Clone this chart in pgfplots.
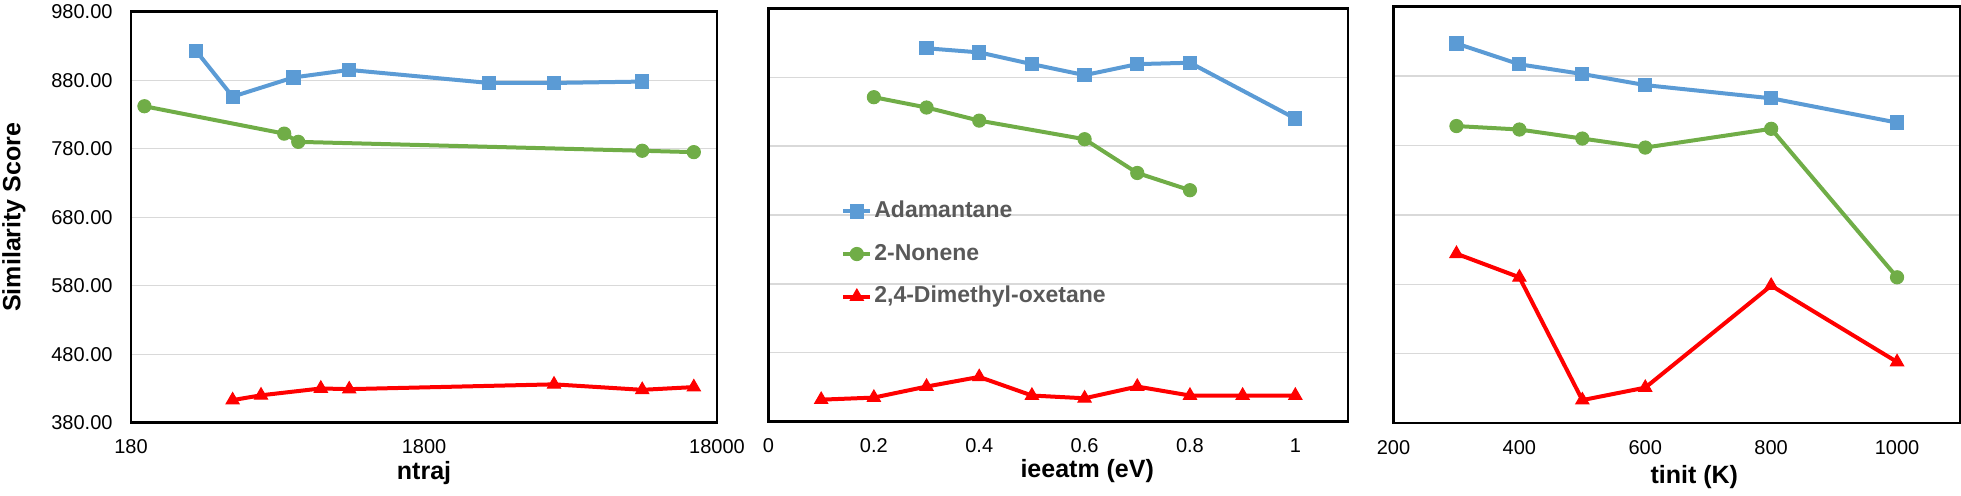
\documentclass[border=0pt]{standalone}
\usepackage{fontspec}
\setmainfont{Liberation Sans}
\usepackage{pgfplots}
\pgfplotsset{compat=1.18}

\definecolor{adam}{HTML}{5B9BD5}
\definecolor{nonene}{HTML}{70AD47}
\definecolor{oxet}{HTML}{FF0000}
\definecolor{gridc}{HTML}{D9D9D9}
\definecolor{legtext}{HTML}{595959}

\newcommand{\labfont}{\bfseries\fontsize{12.5}{14}\selectfont}

\pgfplotsset{
  panel/.style={
    anchor=south west, scale only axis,
    ymin=380, ymax=980, ytick={380,480,...,980},
    ymajorgrids, grid style={gridc, line width=0.65pt},
    axis line style={black, line width=1.3pt},
    tick style={draw=none},
    major tick length=0pt, minor tick length=0pt,
    /pgf/number format/assume math mode=true,
    ticklabel style={font=\fontsize{10}{12}\selectfont},
    xticklabel style={yshift=-5pt},
    yticklabel style={xshift=-5.7pt},
    clip=false,
  },
  sA/.style={adam, line width=2pt, mark=square*, mark size=3.3pt, mark options={solid, fill=adam, line width=0.5pt}},
  sN/.style={nonene, line width=2pt, mark=*, mark size=3.3pt, mark options={solid, fill=nonene, line width=0.5pt}},
  sO/.style={oxet, line width=2pt, mark=triangle*, mark size=3.8pt, mark options={solid, fill=oxet, line width=0.5pt}},
}

\begin{document}
\begin{tikzpicture}
\useasboundingbox (0,0) rectangle (980.5pt,247.5pt);

% ntraj (log axis)
\begin{axis}[panel,
  at={(65.5pt,36.15pt)}, width=293pt, height=205.5pt,
  xmode=log, xmin=180, xmax=18000,
  xtick={180,1800,18000}, xticklabels={180,1800,18000},
  yticklabels={380.00,480.00,580.00,680.00,780.00,880.00,980.00},
  xlabel={ntraj}, ylabel={Similarity Score},
  every axis x label/.style={at={(axis description cs:0.5,-0.122)}, anchor=center, font=\labfont},
  every axis y label/.style={at={(axis description cs:-0.1997,0.5)}, rotate=90, anchor=center, font=\labfont},
]
\addplot[sA] coordinates {(300,923) (400,856) (645,884) (1000,895) (3000,876) (5000,876) (10000,878)};
\addplot[sN] coordinates {(200,842) (600,802) (670,790) (10000,777) (15000,775)};
\addplot[sO] coordinates {(400,413) (500,420) (800,430) (1000,429) (5000,436) (10000,428) (15000,432)};
\end{axis}

% ieeatm
\begin{axis}[panel,
  at={(384.25pt,36.65pt)}, width=289.75pt, height=206.7pt,
  xmin=0, xmax=1.1,
  xtick={0,0.2,0.4,0.6,0.8,1}, xticklabels={0,0.2,0.4,0.6,0.8,1},
  yticklabels={},
  xlabel={ieeatm (eV)},
  every axis x label/.style={at={(axis description cs:0.55,-0.12)}, anchor=center, font=\labfont},
  legend style={at={(axis description cs:0.125,0.5435)}, anchor=north west,
    draw=none, fill=none, inner sep=0pt, row sep=7.3pt, column sep=0pt,
    font=\bfseries\fontsize{11.5}{13}\selectfont, text=legtext,
    nodes={inner sep=1pt, text height=9pt, text depth=3pt},
    cells={anchor=west}},
  legend image code/.code={
    \draw[mark repeat=2,mark phase=2,#1] plot coordinates {(0pt,0pt) (6.75pt,0pt) (13.5pt,0pt)};
  },
]
\addplot[sA] coordinates {(0.3,922) (0.4,916) (0.5,899) (0.6,883) (0.7,899) (0.8,901) (1.0,820)};
\addlegendentry{Adamantane}
\addplot[sN] coordinates {(0.2,851) (0.3,836) (0.4,817) (0.6,790) (0.7,741) (0.8,716)};
\addlegendentry{2-Nonene}
\addplot[sO] coordinates {(0.1,412) (0.2,415) (0.3,431) (0.4,445) (0.5,418) (0.6,414) (0.7,431) (0.8,418) (0.9,418) (1.0,418)};
\addlegendentry{2,4-Dimethyl-oxetane}
\end{axis}

% tinit
\begin{axis}[panel,
  at={(696.75pt,36pt)}, width=283.25pt, height=208.15pt,
  xmin=200, xmax=1100,
  xtick={200,400,600,800,1000}, xticklabels={200,400,600,800,1000},
  yticklabels={},
  xlabel={tinit (K)},
  every axis x label/.style={at={(axis description cs:0.531,-0.13)}, anchor=center, font=\labfont},
]
\addplot[sA] coordinates {(300,927) (400,897) (500,883) (600,867) (800,848) (1000,813)};
\addplot[sN] coordinates {(300,808) (400,803) (500,790) (600,777) (800,804) (1000,590)};
\addplot[sO] coordinates {(300,624) (400,590) (500,413) (600,431) (800,578) (1000,468)};
\end{axis}
\end{tikzpicture}
\end{document}
